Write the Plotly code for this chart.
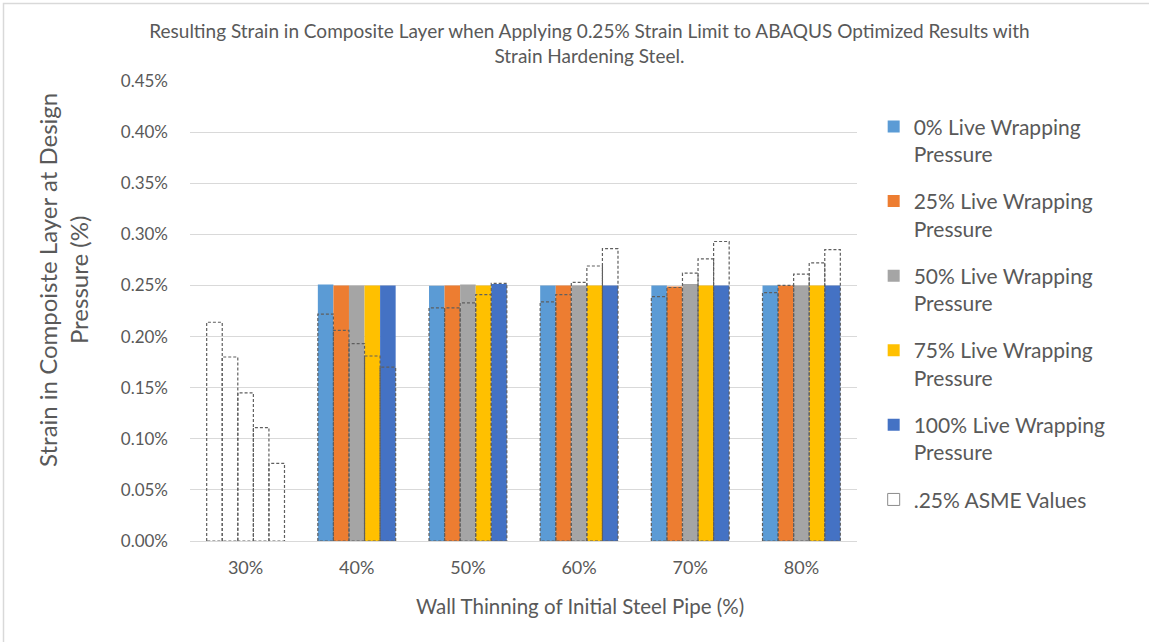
import plotly.graph_objects as go

# Wall thinning categories
categories = ["30%", "40%", "50%", "60%", "70%", "80%"]

# Strain (%) in composite layer, optimized results per live wrapping pressure
series_names = [
    "0% Live Wrapping<br>Pressure",
    "25% Live Wrapping<br>Pressure",
    "50% Live Wrapping<br>Pressure",
    "75% Live Wrapping<br>Pressure",
    "100% Live Wrapping<br>Pressure",
]
lwp_0 = [None, 0.251, 0.2498, 0.250, 0.250, 0.250]
lwp_25 = [None, 0.250, 0.250, 0.250, 0.249, 0.250]
lwp_50 = [None, 0.250, 0.251, 0.250, 0.2515, 0.250]
lwp_75 = [None, 0.250, 0.250, 0.250, 0.250, 0.250]
lwp_100 = [None, 0.250, 0.2515, 0.250, 0.250, 0.250]

# .25% ASME values for the same pressure cases
asme_0 = [0.214, 0.222, 0.228, 0.234, 0.239, 0.243]
asme_25 = [0.180, 0.206, 0.228, 0.241, 0.248, 0.250]
asme_50 = [0.145, 0.193, 0.233, 0.253, 0.262, 0.261]
asme_75 = [0.111, 0.181, 0.241, 0.269, 0.276, 0.272]
asme_100 = [0.076, 0.170, 0.252, 0.286, 0.293, 0.285]

y_ticks = [0.00, 0.05, 0.10, 0.15, 0.20, 0.25, 0.30, 0.35, 0.40, 0.45]

colors = ["#5B9BD5", "#ED7D31", "#A5A5A5", "#FFC000", "#4472C4"]
lwp_series = [lwp_0, lwp_25, lwp_50, lwp_75, lwp_100]
asme_series = [asme_0, asme_25, asme_50, asme_75, asme_100]

FONT = "Lato, Carlito, 'Open Sans', sans-serif"
TEXT = "#595959"
GRID = "#D9D9D9"
OUTLINE = "#5F5F5F"

n_series = len(lwp_series)
bar_w = 0.14
cluster = bar_w * n_series
xpos = list(range(len(categories)))

fig = go.Figure()

for j, (name, vals, col) in enumerate(zip(series_names, lwp_series, colors)):
    fig.add_trace(go.Bar(
        x=xpos, y=vals, name=name,
        width=bar_w, offset=-cluster / 2 + j * bar_w,
        marker=dict(color=col, line=dict(width=0)),
        legendgroup=f"g{j}",
    ))

# dashed outlines for the ASME values, one rectangle per bar slot
for j, vals in enumerate(asme_series):
    xs, ys = [], []
    for i, v in zip(xpos, vals):
        if v is None:
            continue
        x0 = i - cluster / 2 + j * bar_w
        x1 = x0 + bar_w
        xs += [x0, x0, x1, x1, x0, None]
        ys += [0, v, v, 0, 0, None]
    fig.add_trace(go.Scatter(
        x=xs, y=ys, mode="lines",
        line=dict(color=OUTLINE, width=1.2, dash="3px,2px"),
        showlegend=False, hoverinfo="skip",
    ))

# legend entry for the ASME outlines
fig.add_trace(go.Bar(
    x=[None], y=[None], name=".25% ASME Values",
    marker=dict(color="white", line=dict(color="#8C8C8C", width=1)),
    legendgroup="asme",
))

fig.update_layout(
    width=1149, height=642,
    barmode="overlay",
    paper_bgcolor="white", plot_bgcolor="white",
    margin=dict(l=190, r=292, t=81, b=101),
    font=dict(family=FONT, color=TEXT),
    title=dict(
        text="Resulting Strain in Composite Layer when Applying 0.25% Strain Limit to ABAQUS Optimized Results with<br>Strain Hardening Steel.",
        x=0.513, xanchor="center", xref="container",
        y=1 - 38 / 642, yanchor="top", yref="container",
        font=dict(size=19, color=TEXT, family=FONT),
    ),
    xaxis=dict(
        range=[-0.5, 5.5], tickvals=xpos, ticktext=categories,
        showgrid=False, zeroline=False, showline=False,
        tickfont=dict(size=18, color=TEXT), ticklabelstandoff=14,
    ),
    yaxis=dict(
        range=[0, 0.45], tickvals=y_ticks,
        ticktext=[f"{t:.2f}%" for t in y_ticks],
        showgrid=True, gridcolor=GRID, gridwidth=1,
        zeroline=True, zerolinecolor=GRID, zerolinewidth=1,
        showline=False, tickfont=dict(size=17, color=TEXT),
        ticklabelstandoff=21,
    ),
    legend=dict(
        x=1.025, xanchor="left", y=0.945, yanchor="top",
        font=dict(size=21, color=TEXT, family=FONT),
        valign="top", tracegroupgap=17, traceorder="grouped",
        bgcolor="rgba(0,0,0,0)",
    ),
    annotations=[
        dict(
            text="Strain in Compoiste Layer at Design<br>Pressure (%)",
            textangle=-90, xref="paper", yref="paper",
            x=(63 - 190) / 667, y=(541 - 280) / 460,
            xanchor="center", yanchor="middle", showarrow=False,
            font=dict(size=24, color=TEXT, family=FONT),
        ),
        dict(
            text="Wall Thinning of Initial Steel Pipe (%)",
            xref="paper", yref="paper",
            x=(580 - 190) / 667, y=(541 - 606) / 460,
            xanchor="center", yanchor="middle", showarrow=False,
            font=dict(size=20.5, color=TEXT, family=FONT),
        ),
    ],
    shapes=[
        dict(
            type="rect", xref="paper", yref="paper",
            x0=(3.5 - 190) / 667, x1=1.6, y0=-0.5, y1=(541 - 3.5) / 460,
            line=dict(color=GRID, width=1.5), fillcolor="rgba(0,0,0,0)",
            layer="below",
        )
    ],
)

fig.write_html("out.html")
